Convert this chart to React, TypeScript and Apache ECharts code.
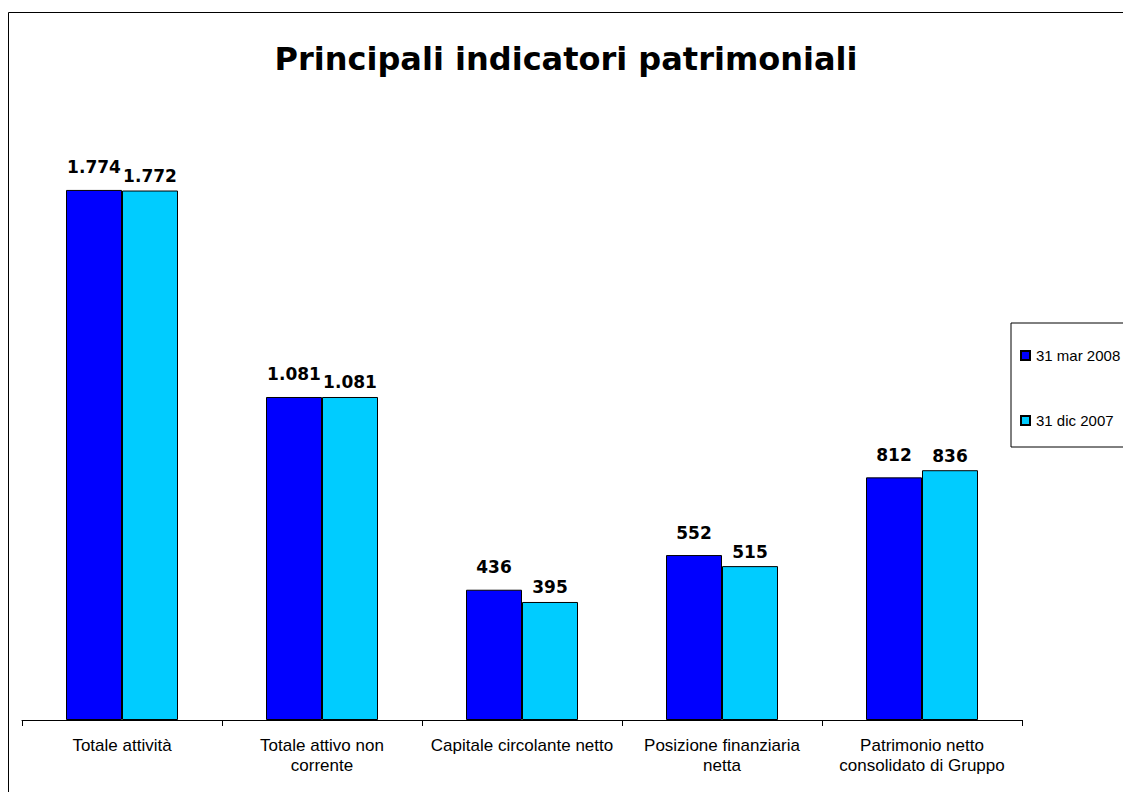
import React, { useEffect, useRef } from "react";
import * as echarts from "echarts";

const categories = [
  "Totale attività",
  "Totale attivo non\ncorrente",
  "Capitale circolante netto",
  "Posizione finanziaria\nnetta",
  "Patrimonio netto\nconsolidato di Gruppo",
];
const seriesNames = ["31 mar 2008", "31 dic 2007"];
const mar2008 = [1774, 1081, 436, 552, 812];
const dic2007 = [1772, 1081, 395, 515, 836];
const titleText = "Principali indicatori patrimoniali";

const fmt = (v: number) => {
  const s = String(Math.round(v));
  return s.replace(/\B(?=(\d{3})+(?!\d))/g, ".");
};

export default function App() {
  const ref = useRef<HTMLDivElement>(null);
  useEffect(() => {
    if (!ref.current) return;
    const chart = echarts.init(ref.current, null, { renderer: "svg" });
    const labelStyle = {
      show: true,
      position: "top" as const,
      fontFamily: "DejaVu Sans",
      fontWeight: "bold" as const,
      fontSize: 17,
      color: "#000",
      formatter: (p: any) => fmt(p.value),
    };
    chart.setOption({
      animation: false,
      backgroundColor: "#fff",
      graphic: [
        {
          type: "rect",
          shape: { x: 8.5, y: 12.5, width: 1300, height: 1000 },
          style: { fill: "none", stroke: "#000", lineWidth: 1 },
          silent: true,
        },
        {
          type: "text",
          x: 566,
          y: 59,
          style: {
            text: titleText,
            fontFamily: "DejaVu Sans",
            fontWeight: "bold",
            fontSize: 32,
            fill: "#000",
            textAlign: "center",
            textVerticalAlign: "middle",
          },
        },
      ],
      legend: {
        orient: "vertical",
        left: 1011,
        top: 323,
        padding: [25, 30, 19, 9],
        itemGap: 50,
        itemWidth: 9,
        itemHeight: 9,
        icon: "rect",
        borderColor: "#000",
        borderWidth: 1,
        backgroundColor: "#fff",
        textStyle: {
          fontFamily: "Liberation Sans",
          fontSize: 15,
          color: "#000",
          padding: [0, 0, 0, 1],
        },
        data: seriesNames,
      },
      grid: { left: 22, right: 101, top: 122.4, bottom: 72 },
      xAxis: {
        type: "category",
        data: categories,
        axisLine: { lineStyle: { color: "#000", width: 1 } },
        axisTick: { show: true, length: 6, lineStyle: { color: "#000" } },
        axisLabel: {
          interval: 0,
          fontFamily: "Liberation Sans",
          fontSize: 17,
          lineHeight: 20,
          color: "#000",
          margin: 15,
        },
      },
      yAxis: {
        type: "value",
        min: 0,
        max: 2000,
        show: false,
        splitLine: { show: false },
      },
      series: [
        {
          name: seriesNames[0],
          type: "bar",
          data: mar2008,
          barWidth: 56,
          barGap: "0%",
          itemStyle: { color: "#0000FF", borderColor: "#000", borderWidth: 1 },
          label: { ...labelStyle, distance: 14 },
        },
        {
          name: seriesNames[1],
          type: "bar",
          data: dic2007,
          barWidth: 56,
          barGap: "0%",
          itemStyle: { color: "#00CCFF", borderColor: "#000", borderWidth: 1 },
          label: { ...labelStyle, distance: 6 },
        },
      ],
    });
    return () => chart.dispose();
  }, []);
  return (
    <div
      ref={ref}
      style={{ position: "absolute", left: 0, top: 0, width: 1123, height: 792 }}
    />
  );
}
